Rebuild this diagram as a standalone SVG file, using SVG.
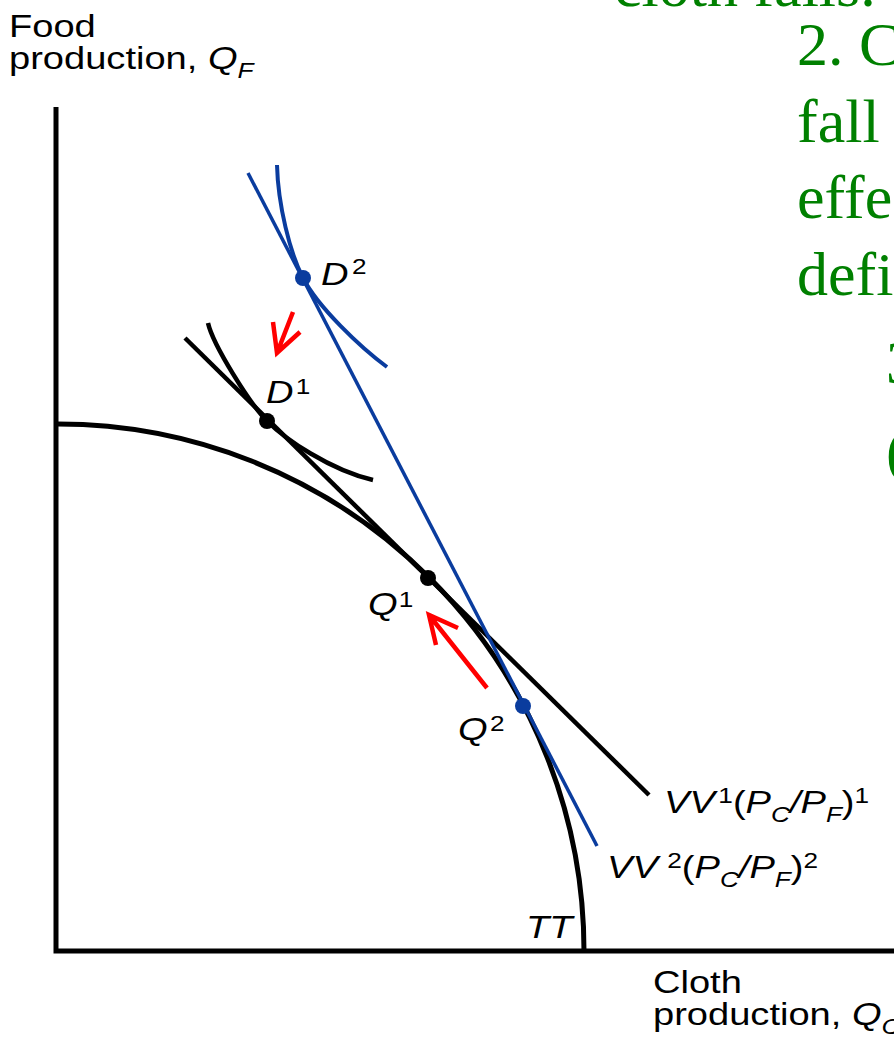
<svg xmlns="http://www.w3.org/2000/svg" width="894" height="1045" viewBox="0 0 894 1045">
<style>
.lbl{font-family:"Liberation Sans",Arial,sans-serif;font-size:32px;fill:#000}
.it{font-style:italic}
.sm{font-size:22px}
.note{font-family:"Liberation Serif","Times New Roman",serif;font-size:62px;fill:#008000}
.blk{fill:none;stroke:#000;stroke-linecap:butt}
.blu{fill:none;stroke:#0a3c9e}
.red{fill:none;stroke:#ff0000;stroke-width:4.5;stroke-linecap:butt;stroke-linejoin:miter}
</style>
<rect width="894" height="1045" fill="#fff"/>

<g id="axes">
<path class="blk" d="M56,107 V951 H894" stroke-width="5"/>
</g>

<g id="connectors">
<path id="TT" class="blk" d="M58,424 A526,527 0 0 1 584,951" stroke-width="5"/>
<path id="VV1" class="blk" d="M185,338 L649,795" stroke-width="4.5"/>
<path id="VV2" class="blu" d="M248,173 L597,846" stroke-width="3.5"/>
<path id="IC1" class="blk" d="M208,323 C213,345 250,404 267,421 C285,439 330,470 373,480" stroke-width="4.5"/>
<path id="IC2" class="blu" d="M277,165 C278,205 290,253 303,278 C318,307 360,347 387,367" stroke-width="4"/>
<g id="arrows">
<path class="red" d="M293,312 L277,353 M273,322 L277,353 L300,332"/>
<path class="red" d="M487,688 L429,615 M436,645 L429,615 L458,628"/>
</g>
</g>

<g id="D2"><circle cx="303" cy="278" r="8" fill="#0a3c9e"/>
<text class="lbl" transform="translate(321,285) scale(1.19,1)"><tspan class="it">D</tspan><tspan class="sm" dx="3" dy="-11">2</tspan></text></g>
<g id="D1"><circle cx="267" cy="421" r="8" fill="#000"/>
<text class="lbl" transform="translate(266,403) scale(1.19,1)"><tspan class="it">D</tspan><tspan class="sm" dx="2" dy="-9">1</tspan></text></g>
<g id="Q1"><circle cx="428" cy="578" r="8" fill="#000"/>
<text class="lbl" transform="translate(368,615) scale(1.19,1)"><tspan class="it">Q</tspan><tspan class="sm" dx="1" dy="-8">1</tspan></text></g>
<g id="Q2"><circle cx="523" cy="706" r="8" fill="#0a3c9e"/>
<text class="lbl" transform="translate(458,740) scale(1.19,1)"><tspan class="it">Q</tspan><tspan class="sm" dx="2" dy="-9">2</tspan></text></g>

<g id="label-VV1"><text class="lbl" transform="translate(664,813) scale(1.19,1)"><tspan class="it">VV</tspan><tspan class="sm" dx="3" dy="-10">1</tspan><tspan dy="10">(</tspan><tspan class="it">P</tspan><tspan class="it sm" dy="9">C</tspan><tspan class="it" dy="-9">/P</tspan><tspan class="it sm" dy="9">F</tspan><tspan dy="-9">)</tspan><tspan class="sm" dy="-10">1</tspan></text></g>
<g id="label-VV2"><text class="lbl" transform="translate(607,878) scale(1.19,1)"><tspan class="it">VV</tspan><tspan class="sm" dx="8" dy="-10">2</tspan><tspan dy="10">(</tspan><tspan class="it">P</tspan><tspan class="it sm" dy="9">C</tspan><tspan class="it" dy="-9">/P</tspan><tspan class="it sm" dy="9">F</tspan><tspan dy="-9">)</tspan><tspan class="sm" dy="-10">2</tspan></text></g>
<g id="label-TT"><text class="lbl it" transform="translate(526,938) scale(1.19,1)">TT</text></g>

<g id="yaxis-label"><text class="lbl" transform="translate(9,37) scale(1.19,1)">Food</text>
<text class="lbl" transform="translate(9,69) scale(1.19,1)">production, <tspan class="it">Q</tspan><tspan class="it sm" dy="9">F</tspan></text></g>
<g id="xaxis-label"><text class="lbl" transform="translate(653,993) scale(1.19,1)">Cloth</text>
<text class="lbl" transform="translate(653,1025) scale(1.19,1)">production, <tspan class="it">Q</tspan><tspan class="it sm" dy="9">C</tspan></text></g>

<g id="notes">
<text class="note" x="614" y="6">cloth falls.</text>
<text class="note" x="797" y="65">2. C</text>
<text class="note" x="797" y="142">fall</text>
<text class="note" x="797" y="218">effe</text>
<text class="note" x="797" y="295">defi</text>
<text class="note" x="886" y="383">3</text>
<text class="note" x="886" y="472">(</text>
</g>
</svg>
